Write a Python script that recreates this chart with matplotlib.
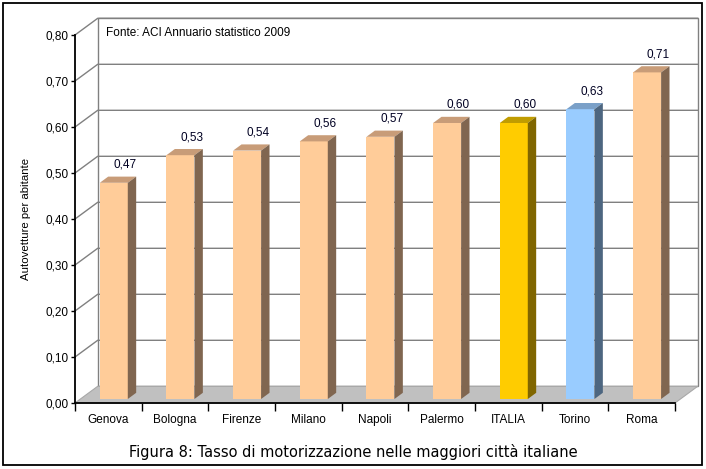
import numpy as np
import matplotlib
matplotlib.use("Agg")
import matplotlib.pyplot as plt
from matplotlib.patches import Polygon, Rectangle
from matplotlib.transforms import IdentityTransform

# data
cities = ["Genova", "Bologna", "Firenze", "Milano", "Napoli", "Palermo", "ITALIA", "Torino", "Roma"]
values = [0.47, 0.53, 0.54, 0.56, 0.57, 0.60, 0.60, 0.63, 0.71]
y_ticks = [0.0, 0.1, 0.2, 0.3, 0.4, 0.5, 0.6, 0.7, 0.8]

# colours (front, top, side)
peach = ("#FFCC99", "#C89C78", "#806650")
gold = ("#FFCC00", "#C09C00", "#806600")
blue = ("#99CCFF", "#7AA0C8", "#4D6680")
bar_cols = [peach] * 6 + [gold, blue, peach]

plt.rcParams["font.family"] = ["Liberation Sans", "DejaVu Sans"]

fig = plt.figure(figsize=(7.06, 4.69), dpi=100)
ax = fig.add_axes([75 / 706, 66 / 469, 600 / 706, 368 / 469])
ax.set_xlim(0, len(cities))
ax.set_ylim(0, 0.8)
ax.patch.set_visible(False)

# depth offset of the 3d box in pixels
DX, DY = 22.7, 16.7
d0, d1 = 0.24, 0.61  # bar front / back depth
half_w = 0.21


def pt(x, y, d):
    return ax.transData.transform((x, y)) + np.array([DX, DY]) * d


def poly(pts, **kw):
    p = Polygon(pts, closed=True, transform=IdentityTransform(), clip_on=False, **kw)
    ax.add_artist(p)
    return p


n = len(cities)
grid_c = "#808080"
# back wall
poly([pt(0, 0, 1), pt(n, 0, 1), pt(n, 0.8, 1), pt(0, 0.8, 1)],
     facecolor="white", edgecolor=grid_c, linewidth=1, zorder=1)
# left wall gridlines continuing on the back wall
for t in y_ticks[1:]:
    a, b, c = pt(0, t, 0), pt(0, t, 1), pt(n, t, 1)
    ax.plot([a[0], b[0], c[0]], [a[1], b[1], c[1]], color=grid_c, lw=1,
            transform=IdentityTransform(), clip_on=False, zorder=1.5)
# floor
poly([pt(0, 0, 0), pt(n, 0, 0), pt(n, 0, 1), pt(0, 0, 1)],
     facecolor="#C0C0C0", edgecolor="#A8A8A8", linewidth=0.8, zorder=2)

# bars
for i, (v, cols) in enumerate(zip(values, bar_cols)):
    x0, x1 = i + 0.5 - half_w, i + 0.5 + half_w
    front, top, side = cols
    poly([pt(x0, 0, d0), pt(x1, 0, d0), pt(x1, v, d0), pt(x0, v, d0)],
         facecolor=front, edgecolor="none", zorder=3)
    poly([pt(x0, v, d0), pt(x1, v, d0), pt(x1, v, d1), pt(x0, v, d1)],
         facecolor=top, edgecolor="none", zorder=3)
    poly([pt(x1, 0, d0), pt(x1, 0, d1), pt(x1, v, d1), pt(x1, v, d0)],
         facecolor=side, edgecolor="none", zorder=3)
    lx, ly = pt(i + 0.5, v, d1)
    ax.text(lx + 3, ly + 6, f"{v:.2f}".replace(".", ","), ha="center", va="bottom",
            fontsize=8.5, color="#000022", transform=IdentityTransform(), zorder=4)

# axes
for s in ["top", "right"]:
    ax.spines[s].set_visible(False)
for s in ["left", "bottom"]:
    ax.spines[s].set_linewidth(1.3)
    ax.spines[s].set_zorder(5)
ax.set_yticks(y_ticks)
ax.set_yticklabels([f"{t:.2f}".replace(".", ",") for t in y_ticks], fontsize=8.5)
ax.tick_params(axis="y", length=3, width=1, pad=1.5)
ax.set_xticks(np.arange(n + 1))
ax.set_xticklabels([])
ax.tick_params(axis="x", length=6, width=1)
ax.set_xticks(np.arange(n) + 0.5, minor=True)
ax.set_xticklabels(cities, minor=True, fontsize=8.5)
ax.tick_params(axis="x", which="minor", length=0, pad=8)
ax.set_ylabel("Autovetture per abitante", fontsize=8.2)
ax.yaxis.set_label_coords(-44 / 600, 0.5)

ax.text(106 / 706, 1 - 33 / 469, "Fonte: ACI Annuario statistico 2009", fontsize=8.5,
        va="center", ha="left", transform=fig.transFigure)

fig.text(353 / 706, 1 - 452 / 469, "Figura 8: Tasso di motorizzazione nelle maggiori città italiane",
         ha="center", va="center", fontsize=10.5, family=["DejaVu Sans"])

fig.add_artist(Rectangle((3 / 706, 4 / 469), 699 / 706, 462 / 469, transform=fig.transFigure,
                         fill=False, edgecolor="black", linewidth=1.3))

fig.savefig("out.png", dpi=100)
